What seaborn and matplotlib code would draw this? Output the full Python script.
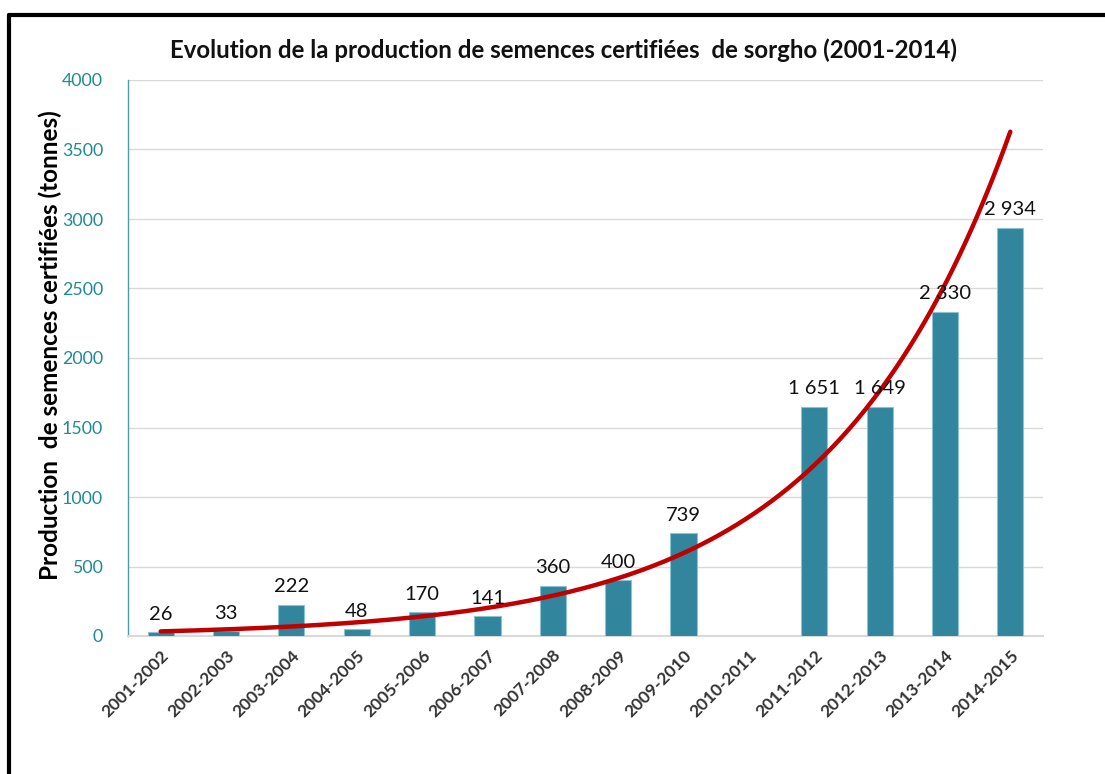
import numpy as np
import pandas as pd
import matplotlib
matplotlib.use("Agg")
import matplotlib.pyplot as plt
from matplotlib.lines import Line2D
import seaborn as sns

campaigns = ["2001-2002", "2002-2003", "2003-2004", "2004-2005", "2005-2006",
             "2006-2007", "2007-2008", "2008-2009", "2009-2010", "2010-2011",
             "2011-2012", "2012-2013", "2013-2014", "2014-2015"]
production = [26, 33, 222, 48, 170, 141, 360, 400, 739, np.nan,
              1651, 1649, 2330, 2934]
y_ticks = [0, 500, 1000, 1500, 2000, 2500, 3000, 3500, 4000]

title = "Evolution de la production de semences certifiées  de sorgho (2001-2014)"
ylabel = "Production  de semences certifiées (tonnes)"

df = pd.DataFrame({"campagne": campaigns, "production": production})

sns.set_theme(style="white")
plt.rcParams["font.family"] = ["Lato", "DejaVu Sans"]

fig = plt.figure(figsize=(11.05, 7.74), dpi=100)
ax = fig.add_axes([128/1105, 1-636/774, (1043-128)/1105, (636-80)/774])

bar_color = "#31859C"
sns.barplot(data=df, x="campagne", y="production", order=campaigns,
            color=bar_color, saturation=1, width=0.4, ax=ax,
            edgecolor="#8CC3D3", linewidth=0.8, zorder=3)

# data labels
for i, v in enumerate(production):
    if np.isnan(v):
        continue
    lab = f"{int(v):,}".replace(",", " ")
    ax.annotate(lab, (i, v), xytext=(0, 7), textcoords="offset points",
                ha="center", va="bottom", fontsize=14.5, color="#111111", zorder=5)

# exponential trendline (Excel-style fit on index 1..n, skipping blanks)
xi = np.arange(1, len(production) + 1, dtype=float)
yv = np.array(production, dtype=float)
mask = ~np.isnan(yv)
b, lna = np.polyfit(xi[mask], np.log(yv[mask]), 1)
xs = np.linspace(1, len(production), 300)
ax.plot(xs - 1, np.exp(lna) * np.exp(b * xs), color="#C00000", lw=3.2,
        solid_capstyle="round", zorder=4)

ax.set_xlim(-0.5, len(campaigns) - 0.5)
ax.set_ylim(0, 4000)
ax.set_yticks(y_ticks)
ax.set_yticklabels([str(t) for t in y_ticks], color="#1F8A96", fontsize=12.8)
ax.yaxis.grid(True, color="#D9D9D9", lw=1)
ax.set_axisbelow(True)
ax.tick_params(axis="y", length=0, pad=18)
ax.tick_params(axis="x", length=0, pad=8)
plt.setp(ax.get_xticklabels(), rotation=45, ha="right", rotation_mode="anchor",
         fontsize=12.5, fontweight="bold", color="#333333")
ax.set_xlabel("")
ax.set_ylabel(ylabel, fontsize=17.5, fontweight="bold", color="black")
ax.yaxis.set_label_coords(-0.0725, 0.523)

for s in ["top", "right"]:
    ax.spines[s].set_visible(False)
ax.spines["left"].set_color("#4A9BAE")
ax.spines["left"].set_linewidth(1.0)
ax.spines["bottom"].set_color("#D9D9D9")
ax.spines["bottom"].set_linewidth(1.5)

fig.text(0.510, 1 - 50/774, title, ha="center", va="center",
         fontsize=17.3, fontweight="bold", color="#111111")

# outer frame (left and top visible)
top_y = 1 - 15/774
left_x = 8.5/1105
fig.add_artist(Line2D([left_x, left_x], [0, top_y], transform=fig.transFigure,
                      color="black", lw=3))
fig.add_artist(Line2D([left_x, 1], [top_y, top_y], transform=fig.transFigure,
                      color="black", lw=3))

fig.savefig("out.png", dpi=100, facecolor="white")
